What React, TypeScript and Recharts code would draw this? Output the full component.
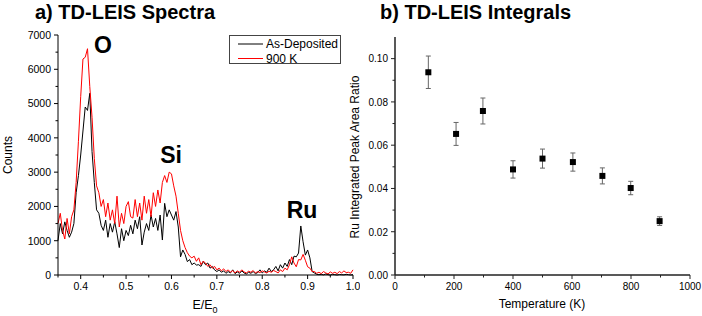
import React from 'react';
import { LineChart, Line, XAxis, YAxis, ScatterChart, Scatter, ErrorBar } from 'recharts';

// a) TD-LEIS spectra, E/E0 grid (step 0.005)
const energies = [
  0.35, 0.355, 0.36, 0.365, 0.37, 0.375, 0.38, 0.385, 0.39, 0.395,
  0.4, 0.405, 0.41, 0.415, 0.42, 0.425, 0.43, 0.435, 0.44, 0.445,
  0.45, 0.455, 0.46, 0.465, 0.47, 0.475, 0.48, 0.485, 0.49, 0.495,
  0.5, 0.505, 0.51, 0.515, 0.52, 0.525, 0.53, 0.535, 0.54, 0.545,
  0.55, 0.555, 0.56, 0.565, 0.57, 0.575, 0.58, 0.585, 0.59, 0.595,
  0.6, 0.605, 0.61, 0.615, 0.62, 0.625, 0.63, 0.635, 0.64, 0.645,
  0.65, 0.655, 0.66, 0.665, 0.67, 0.675, 0.68, 0.685, 0.69, 0.695,
  0.7, 0.705, 0.71, 0.715, 0.72, 0.725, 0.73, 0.735, 0.74, 0.745,
  0.75, 0.755, 0.76, 0.765, 0.77, 0.775, 0.78, 0.785, 0.79, 0.795,
  0.8, 0.805, 0.81, 0.815, 0.82, 0.825, 0.83, 0.835, 0.84, 0.845,
  0.85, 0.855, 0.86, 0.865, 0.87, 0.875, 0.88, 0.885, 0.89, 0.895,
  0.9, 0.905, 0.91, 0.915, 0.92, 0.925, 0.93, 0.935, 0.94, 0.945,
  0.95, 0.955, 0.96, 0.965, 0.97, 0.975, 0.98, 0.985, 0.99, 0.995,
  1.0,
];

const asDeposited = [
  1000, 1500, 1200, 1550, 1300, 1100, 1250, 1500, 2400, 2900,
  3500, 4200, 4900, 4800, 5300, 3600, 2700, 1900, 1800, 1450,
  1300, 1600, 1100, 1500, 1250, 1550, 1200, 800, 1350, 1000,
  1300, 1150, 1450, 1200, 1600, 1350, 1700, 875, 1250, 1500,
  1300, 1750, 1400, 1650, 1300, 1750, 1020, 2090, 1700, 1900,
  1750, 1600, 1850, 1400, 530, 730, 600, 390, 450, 300,
  350, 290, 300, 250, 400, 300, 350, 200, 250, 150,
  100, 150, 80, 120, 50, 100, 60, 150, 40, 90,
  50, 120, 60, 30, 80, 50, 100, 40, 70, 150,
  60, 120, 80, 200, 100, 150, 250, 120, 300, 200,
  350, 250, 450, 300, 550, 530, 640, 1430, 970, 580,
  730, 500, 100, 60, 20, 10, 20, 5, 30, 10,
  0, 20, 10, 0, 15, 10, 5, 20, 10, 0,
  10,
];

const annealed900 = [
  1500, 1800, 1300, 1050, 1650, 1200, 1700, 1900, 2700, 3900,
  5200, 6300, 6350, 6600, 5500, 4600, 3400, 2600, 2400, 2000,
  2200, 1700, 2100, 1600, 1900, 1500, 2300, 1400, 1800, 1500,
  2000, 2140, 1700, 1660, 2200, 1700, 2100, 1600, 2300, 1800,
  2200, 1700, 2400, 2000, 2480, 2100, 2700, 2900, 2700, 3000,
  2950, 2600, 2300, 1800, 1300, 1000, 800, 650, 550, 500,
  550, 400, 500, 300, 400, 350, 250, 300, 200, 250,
  150, 200, 120, 180, 100, 150, 80, 130, 60, 120,
  80, 150, 90, 60, 110, 80, 130, 60, 100, 70,
  120, 90, 60, 110, 80, 130, 100, 60, 150, 100,
  200, 150, 300, 530, 350, 240, 450, 440, 600, 430,
  240, 200, 100, 100, 50, 80, 40, 100, 60, 30,
  90, 50, 80, 40, 100, 60, 120, 70, 80, 50,
  150,
];

const seriesNames = ['As-Deposited', '900 K'];
const seriesColors = ['#000000', '#ff0000'];

const eTicks = [0.35, 0.4, 0.45, 0.5, 0.55, 0.6, 0.65, 0.7, 0.75, 0.8, 0.85, 0.9, 0.95, 1.0];
const eMajor = [0.4, 0.5, 0.6, 0.7, 0.8, 0.9, 1.0];
const countTicks = [0, 500, 1000, 1500, 2000, 2500, 3000, 3500, 4000, 4500, 5000, 5500, 6000, 6500, 7000];
const countMajor = [0, 1000, 2000, 3000, 4000, 5000, 6000, 7000];

// b) TD-LEIS integrals
const temperatures = [113, 207, 298, 400, 500, 603, 703, 799, 897];
const ratios = [0.0937, 0.0652, 0.0758, 0.0488, 0.0538, 0.0522, 0.0458, 0.0402, 0.0249];
const ratioErrors = [0.0075, 0.0053, 0.006, 0.004, 0.0044, 0.0042, 0.0037, 0.0031, 0.002];

const tempTicks = [0, 100, 200, 300, 400, 500, 600, 700, 800, 900, 1000];
const tempMajor = [0, 200, 400, 600, 800, 1000];
const ratioTicks = [0, 0.01, 0.02, 0.03, 0.04, 0.05, 0.06, 0.07, 0.08, 0.09, 0.1];
const ratioMajor = [0, 0.02, 0.04, 0.06, 0.08, 0.1];

const spectra = energies.map((e, i) => ({ e, asDep: asDeposited[i], k900: annealed900[i] }));
const integrals = temperatures.map((t, i) => ({ t, ratio: ratios[i], err: ratioErrors[i] }));

const FONT = '"Liberation Sans", Arial, sans-serif';

const isMajor = (v: number, majors: number[]) => majors.some(m => Math.abs(m - v) < 1e-9);

function BottomTick(props: any) {
  const { x, y, payload, majors, fmt, fontSize, stroke } = props;
  const major = isMajor(payload.value, majors);
  return (
    <g>
      <line x1={x} x2={x} y1={y} y2={y + (major ? 4 : 2.5)} stroke={stroke} />
      {major && (
        <text x={x} y={y + 15} textAnchor="middle" fontSize={fontSize} fill="#000" fontFamily={FONT}>
          {fmt(payload.value)}
        </text>
      )}
    </g>
  );
}

function LeftTick(props: any) {
  const { x, y, payload, majors, fmt, fontSize, stroke } = props;
  const major = isMajor(payload.value, majors);
  return (
    <g>
      <line x1={x} x2={x - (major ? 4 : 2.5)} y1={y} y2={y} stroke={stroke} />
      {major && (
        <text x={x - 7} y={y + 3.8} textAnchor="end" fontSize={fontSize} fill="#000" fontFamily={FONT}>
          {fmt(payload.value)}
        </text>
      )}
    </g>
  );
}

const squareShape = (p: any) => <rect x={p.cx - 3} y={p.cy - 3} width={6} height={6} fill="#000" />;

export default function App() {
  return (
    <div style={{ position: 'absolute', left: 0, top: 0, width: 702, height: 316, background: '#fff', fontFamily: FONT }}>
      <div style={{ position: 'absolute', left: 0, top: 0 }}>
        <LineChart width={360} height={316} data={spectra} margin={{ top: 35, right: 7, bottom: 11, left: 8 }}>
          <XAxis
            dataKey="e"
            type="number"
            domain={[0.35, 1.0]}
            ticks={eTicks}
            interval={0}
            height={30}
            tickSize={0}
            tickMargin={0}
            stroke="#000"
            tick={(p: any) => <BottomTick {...p} majors={eMajor} fmt={(v: number) => v.toFixed(1)} fontSize={10.5} stroke="#000" />}
          />
          <YAxis
            type="number"
            domain={[0, 7000]}
            ticks={countTicks}
            interval={0}
            width={50}
            tickSize={0}
            tickMargin={0}
            stroke="#000"
            tick={(p: any) => <LeftTick {...p} majors={countMajor} fmt={(v: number) => String(v)} fontSize={10.5} stroke="#000" />}
          />
          <Line dataKey="asDep" name={seriesNames[0]} stroke={seriesColors[0]} strokeWidth={1} dot={false} isAnimationActive={false} />
          <Line dataKey="k900" name={seriesNames[1]} stroke={seriesColors[1]} strokeWidth={1} dot={false} isAnimationActive={false} />
        </LineChart>
      </div>

      <div style={{ position: 'absolute', left: 360, top: 0 }}>
        <ScatterChart width={342} height={316} margin={{ top: 37, right: 12, bottom: 11, left: 5 }}>
          <XAxis
            dataKey="t"
            type="number"
            domain={[0, 1000]}
            ticks={tempTicks}
            interval={0}
            height={30}
            tickSize={0}
            tickMargin={0}
            stroke="#222"
            strokeWidth={1.5}
            tick={(p: any) => <BottomTick {...p} majors={tempMajor} fmt={(v: number) => String(v)} fontSize={10} stroke="#222" />}
          />
          <YAxis
            dataKey="ratio"
            type="number"
            domain={[0, 0.11]}
            ticks={ratioTicks}
            interval={0}
            width={30}
            tickSize={0}
            tickMargin={0}
            stroke="#222"
            strokeWidth={1.5}
            tick={(p: any) => <LeftTick {...p} majors={ratioMajor} fmt={(v: number) => v.toFixed(2)} fontSize={10} stroke="#222" />}
          />
          <Scatter data={integrals} fill="#000" shape={squareShape} isAnimationActive={false}>
            <ErrorBar dataKey="err" direction="y" width={2.5} stroke="#666" strokeWidth={1} isAnimationActive={false} />
          </Scatter>
        </ScatterChart>
      </div>

      <svg width={702} height={316} style={{ position: 'absolute', left: 0, top: 0, pointerEvents: 'none' }}>
        <g fontFamily={FONT} fill="#000">
          <text x={35} y={18.5} fontSize={20} fontWeight="bold">a) TD-LEIS Spectra</text>
          <text x={380} y={18.5} fontSize={20} fontWeight="bold">b) TD-LEIS Integrals</text>

          <text x={103} y={53} fontSize={23} fontWeight="bold" textAnchor="middle">O</text>
          <text x={171} y={163} fontSize={23} fontWeight="bold" textAnchor="middle">Si</text>
          <text x={302} y={218} fontSize={23} fontWeight="bold" textAnchor="middle">Ru</text>

          <text x={205} y={309} fontSize={12.5} textAnchor="middle">
            E/E<tspan fontSize={9} dy={4}>0</tspan>
          </text>
          <text transform="translate(12,155) rotate(-90)" fontSize={12} textAnchor="middle">Counts</text>

          <text x={542} y={308} fontSize={12} textAnchor="middle">Temperature (K)</text>
          <text transform="translate(359,157) rotate(-90)" fontSize={12} textAnchor="middle">Ru Integrated Peak Area Ratio</text>

          <rect x={229.5} y={35.5} width={111} height={28} fill="#fff" stroke="#444" strokeWidth={1} />
          {seriesNames.map((name, i) => (
            <g key={name}>
              <line x1={238} x2={263} y1={44 + i * 14.5} y2={44 + i * 14.5} stroke={seriesColors[i]} strokeWidth={1} />
              <text x={266} y={48 + i * 14.5} fontSize={12}>{name}</text>
            </g>
          ))}
        </g>
      </svg>
    </div>
  );
}
